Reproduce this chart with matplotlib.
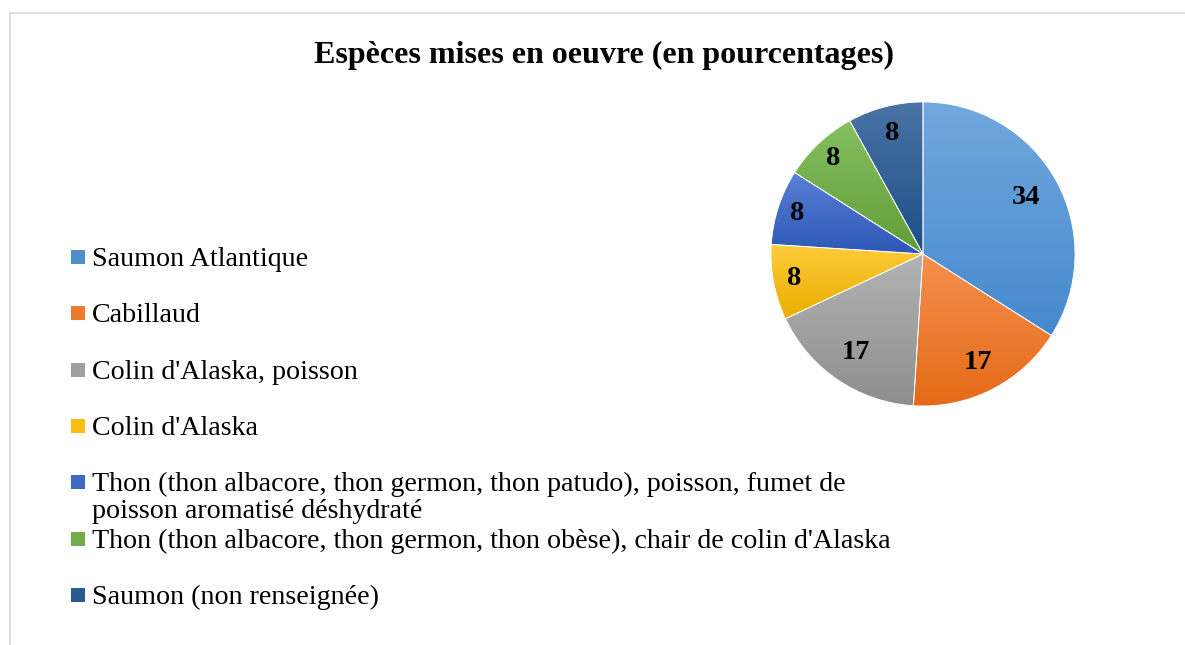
import numpy as np
import matplotlib
matplotlib.use("Agg")
import matplotlib.pyplot as plt
from matplotlib.colors import LinearSegmentedColormap
from matplotlib.patches import Rectangle

# Données du graphique
especes = [
    "Saumon Atlantique",
    "Cabillaud",
    "Colin d'Alaska, poisson",
    "Colin d'Alaska",
    "Thon (thon albacore, thon germon, thon patudo), poisson, fumet de\npoisson aromatisé déshydraté",
    "Thon (thon albacore, thon germon, thon obèse), chair de colin d'Alaska",
    "Saumon (non renseignée)",
]
pourcentages = [34, 17, 17, 8, 8, 8, 8]

# couleurs (clair, foncé) pour le dégradé façon Excel
couleurs_clair = ["#72a8de", "#f5904f", "#b3b3b3", "#ffcb3a", "#5a80d6", "#86c061", "#4b73a5"]
couleurs_fonce = ["#4589cd", "#e46a17", "#8e8e8e", "#e9ae00", "#2d58b5", "#5f9e36", "#1c4e86"]
couleurs_leg = ["#4f8fd0", "#ee7a30", "#a0a0a0", "#f8bd10", "#3f68c6", "#71ad48", "#2a5a8f"]

plt.rcParams['font.family'] = ['Liberation Serif', 'DejaVu Serif']

fig = plt.figure(figsize=(11.85, 6.45), dpi=100)
W, H = 1185, 645

# cadre gris clair
fig.patches.append(Rectangle((10 / W, -0.01), 1.1, 1 - 13 / H + 0.01, transform=fig.transFigure,
                             fill=False, edgecolor="#d9d9d9", linewidth=1.2))

fig.text(604 / W, 1 - 55 / H, "Espèces mises en oeuvre (en pourcentages)", ha="center", va="center",
         fontsize=23, fontweight="bold")

# camembert
cx, cy, r = 923, 254, 152
ax = fig.add_axes([(cx - r) / W, 1 - (cy + r) / H, 2 * r / W, 2 * r / H])
wedges, _ = ax.pie(pourcentages, startangle=90, counterclock=False, colors=couleurs_leg,
                   wedgeprops=dict(edgecolor="white", linewidth=0.6), radius=1)

grad = np.linspace(0, 1, 256).reshape(-1, 1)
for w, c1, c2 in zip(wedges, couleurs_clair, couleurs_fonce):
    bb = w.get_path().get_extents()
    cmap = LinearSegmentedColormap.from_list("g", [c2, c1])
    im = ax.imshow(grad, extent=[bb.x0, bb.x1, bb.y0, bb.y1], origin="lower", cmap=cmap,
                   aspect="auto", zorder=1.5, interpolation="bilinear")
    im.set_clip_path(w)
    w.set_zorder(2)
    w.set_facecolor("none")

# étiquettes de données
cumul = np.cumsum([0] + pourcentages[:-1])
dist = [0.77, 0.8, 0.78, 0.86, 0.87, 0.86, 0.82]
for v, c0, d in zip(pourcentages, cumul, dist):
    ang = np.deg2rad(90 - (c0 + v / 2) * 3.6)
    ax.text(d * np.cos(ang), d * np.sin(ang), str(v), ha="center", va="center",
            fontsize=20.5, fontweight="bold", zorder=3)

ax.set_xlim(-1, 1)
ax.set_ylim(-1, 1)
ax.set_aspect("equal")
ax.axis("off")

# légende à gauche
y0, dy = 257, 56.3
for i, (lab, col) in enumerate(zip(especes, couleurs_leg)):
    yc = y0 + i * dy
    fig.patches.append(Rectangle((71 / W, 1 - (yc + 7) / H), 14 / W, 14 / H,
                                 transform=fig.transFigure, facecolor=col, edgecolor="none"))
    fig.text(92 / W, 1 - (yc - 10) / H, lab, ha="left", va="top", fontsize=20.2,
             linespacing=1.1)

fig.savefig("out.png", dpi=100, facecolor="white")
